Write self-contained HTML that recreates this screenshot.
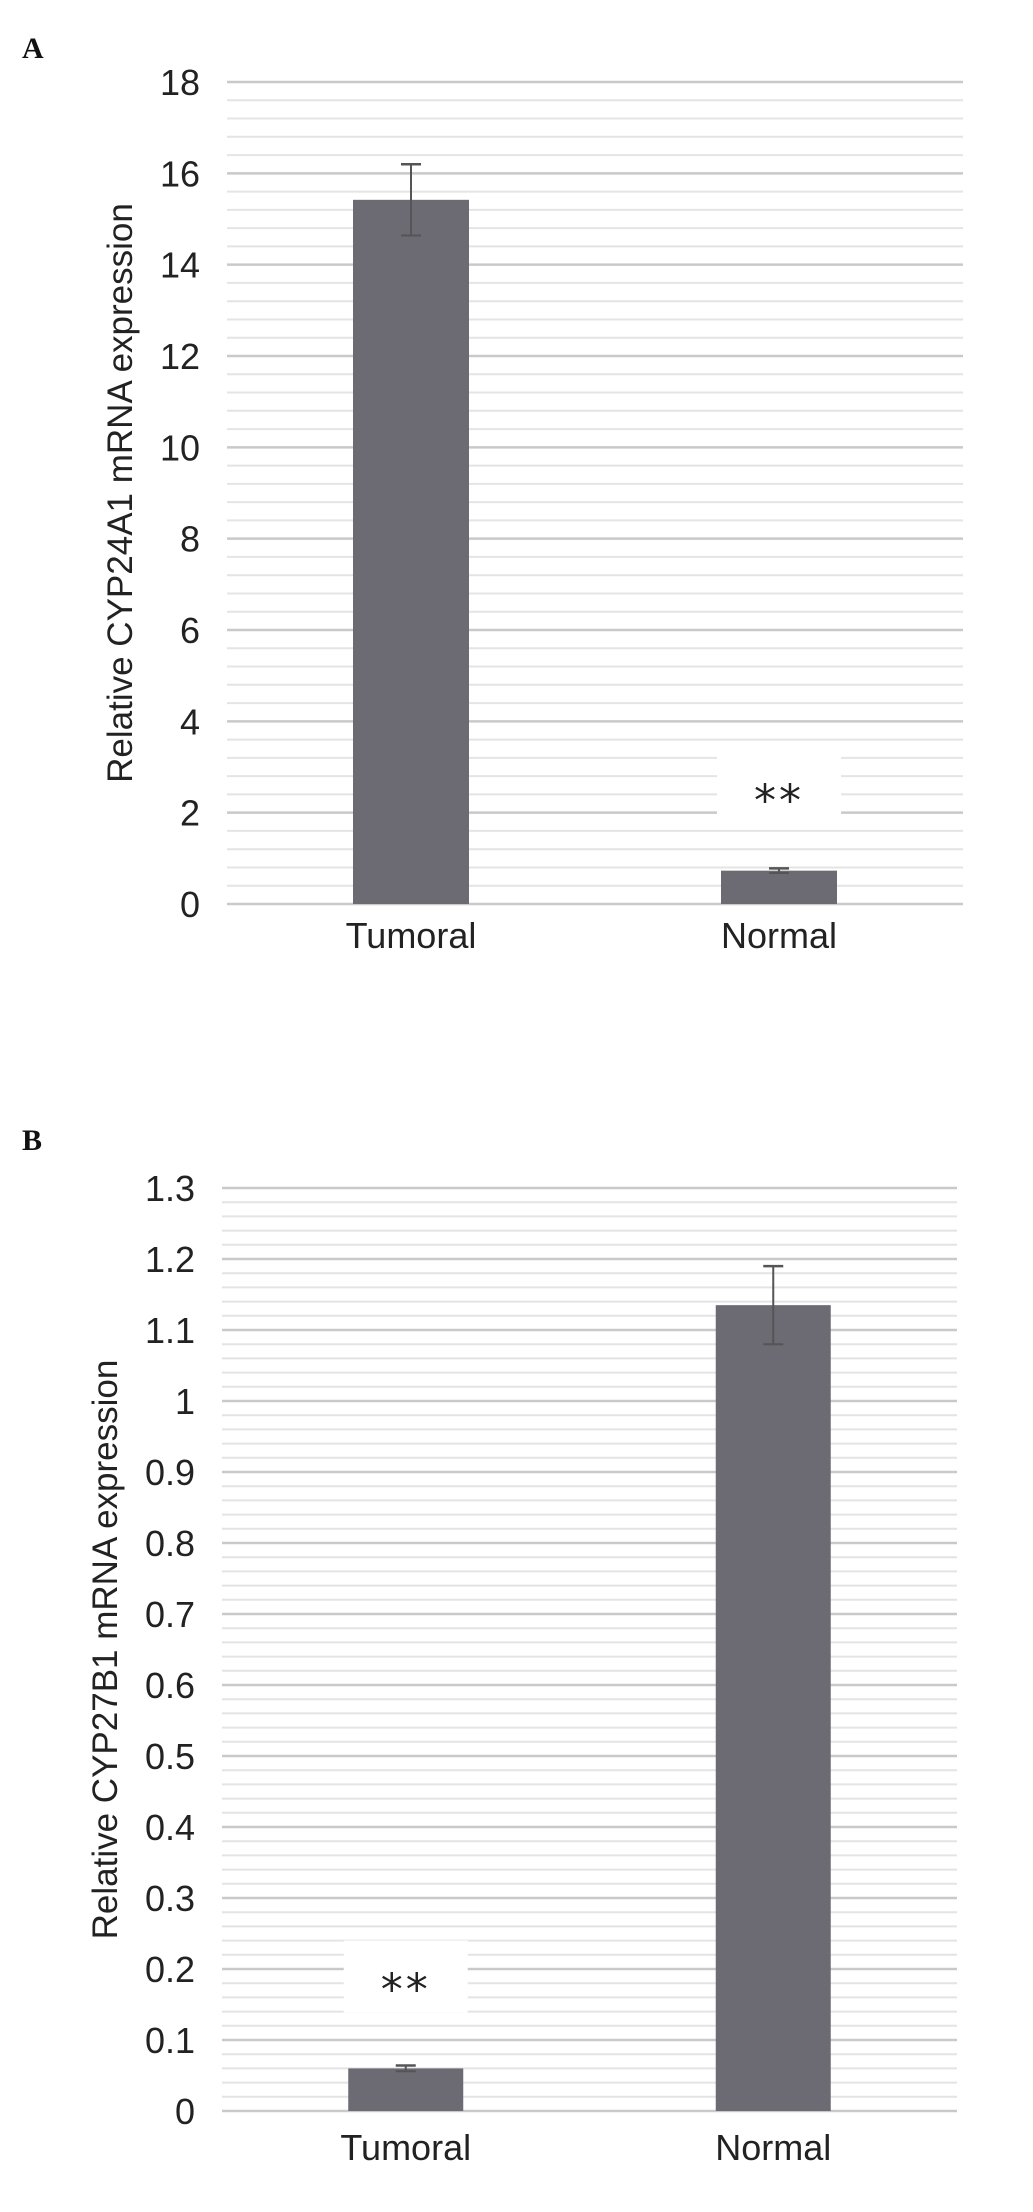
<!DOCTYPE html>
<html><head><meta charset="utf-8"><style>
html,body{margin:0;padding:0;background:#fff;}
svg{display:block;}
text{font-family:"Liberation Sans",Arial,sans-serif;fill:#222;}
</style></head><body>
<svg id="fig" width="1033" height="2212" viewBox="0 0 1033 2212" xmlns="http://www.w3.org/2000/svg">
<text x="22" y="58" style="font-family:'Liberation Serif',serif;font-weight:bold;font-size:30px;fill:#111">A</text>
<text x="22" y="1150" style="font-family:'Liberation Serif',serif;font-weight:bold;font-size:30px;fill:#111">B</text>
<g id="chartA"></g>
<g id="chartB"></g>
</svg>
<script>
var categoriesA = ["Tumoral", "Normal"];
var valuesA = [15.42, 0.73];
var errA = [0.78, 0.05];
var ticksA = [0, 2, 4, 6, 8, 10, 12, 14, 16, 18];
var sigA = ["", "**"];

var categoriesB = ["Tumoral", "Normal"];
var valuesB = [0.06, 1.135];
var errB = [0.004, 0.055];
var ticksB = [0, 0.1, 0.2, 0.3, 0.4, 0.5, 0.6, 0.7, 0.8, 0.9, 1, 1.1, 1.2, 1.3];
var sigB = ["**", ""];

var NS = "http://www.w3.org/2000/svg";
function mk(parent, tag, attrs, txt) {
  var el = document.createElementNS(NS, tag);
  for (var k in attrs) el.setAttribute(k, attrs[k]);
  if (txt !== undefined) el.textContent = txt;
  parent.appendChild(el);
  return el;
}

function drawChart(g, cfg, cats, vals, errs, ticks, sigs) {
  var yMin = ticks[0], yMax = ticks[ticks.length - 1];
  function y(v) { return cfg.y0 - (v - yMin) / (yMax - yMin) * (cfg.y0 - cfg.y1); }
  var step = ticks[1] - ticks[0];
  var nMinor = 5;
  for (var i = 0; i < ticks.length - 1; i++) {
    for (var m = 1; m < nMinor; m++) {
      var v = ticks[i] + step * m / nMinor;
      var ln = mk(g, "line", {x1: cfg.xl, x2: cfg.xr, y1: y(v), y2: y(v), stroke: "#e4e4e4", "stroke-width": 2});
      
      
    }
  }
  ticks.forEach(function (t) {
    var ln = mk(g, "line", {x1: cfg.xl, x2: cfg.xr, y1: y(t), y2: y(t), stroke: "#c9c9c9", "stroke-width": 2.5});
    
    
    var tx = mk(g, "text", {x: cfg.tickX, y: y(t) + 13, "text-anchor": "end", "font-size": 36}, String(t));
    
    
  });
  var n = cats.length;
  var band = (cfg.xr - cfg.xl) / n;
  cats.forEach(function (c, i) {
    var cx = cfg.xl + band * (i + 0.5);
    if (sigs[i]) {
      var sy = y(vals[i] + errs[i]) - cfg.sigOffset;
      var bx = mk(g, "rect", {x: cx - 62, y: sy - 42, width: 124, height: 72, fill: "#fff"});
      
      
      var st = mk(g, "text", {x: cx, y: sy + 22, "text-anchor": "middle", "font-size": 44, "letter-spacing": "3", style: "font-family:'DejaVu Sans',sans-serif"}, sigs[i]);
      
      
    }
    var top = y(vals[i]);
    var bar = mk(g, "rect", {x: cx - cfg.bw / 2, y: top, width: cfg.bw, height: cfg.y0 - top, fill: "#6c6b73"});
    
    
    var eu = y(vals[i] + errs[i]), ed = y(vals[i] - errs[i]);
    var ev = mk(g, "line", {x1: cx, x2: cx, y1: eu, y2: ed, stroke: "#555", "stroke-width": 2});
    
    
    var e1 = mk(g, "line", {x1: cx - 10, x2: cx + 10, y1: eu, y2: eu, stroke: "#555", "stroke-width": 2.5});
    
    
    var e2 = mk(g, "line", {x1: cx - 10, x2: cx + 10, y1: ed, y2: ed, stroke: "#555", "stroke-width": 2});
    
    
    var lb = mk(g, "text", {x: cx, y: cfg.catY, "text-anchor": "middle", "font-size": 36}, c);
    
    
  });
  var cy = (cfg.y0 + cfg.y1) / 2;
  var tt = mk(g, "text", {x: cfg.titleX, y: cy, "text-anchor": "middle", "font-size": 35, transform: "rotate(-90 " + cfg.titleX + " " + cy + ")"}, cfg.title);
  
  
}

drawChart(document.getElementById("chartA"),
  {xl: 227, xr: 963, y0: 904, y1: 82, bw: 116, tickX: 200, catY: 948, titleX: 132, sigOffset: 75,
   title: "Relative CYP24A1 mRNA expression"},
  categoriesA, valuesA, errA, ticksA, sigA);
drawChart(document.getElementById("chartB"),
  {xl: 222, xr: 957, y0: 2111, y1: 1188, bw: 115, tickX: 195, catY: 2160, titleX: 117, sigOffset: 83,
   title: "Relative CYP27B1 mRNA expression"},
  categoriesB, valuesB, errB, ticksB, sigB);
</script>
</body></html>
